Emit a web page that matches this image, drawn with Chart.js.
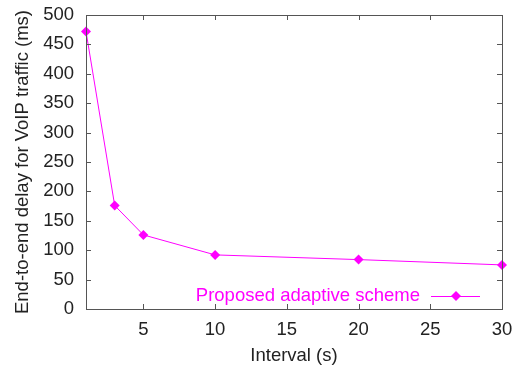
<!DOCTYPE html>
<html>
<head>
<meta charset="utf-8">
<script src="https://cdn.jsdelivr.net/npm/chart.js@4/dist/chart.umd.min.js"></script>
<style>
  html, body { margin: 0; padding: 0; background: #fff; }
  #wrap { width: 519px; height: 365px; }
</style>
</head>
<body>
<div id="wrap"><canvas id="c" width="519" height="365"></canvas></div>
<script>
// Measurement interval (s) and the resulting VoIP end-to-end delay (ms)
const intervals = [1, 3, 5, 10, 20, 30];
const delays = [472, 176, 126, 92, 84, 75];
const seriesLabel = 'Proposed adaptive scheme';
const xTicks = [5, 10, 15, 20, 25, 30];
const yTicks = [0, 50, 100, 150, 200, 250, 300, 350, 400, 450, 500];

const MAGENTA = '#ff00ff';
const FONT = 'Liberation Sans, Arial, sans-serif';
const FONT_SIZE = 18.5;

// Frame with inward ticks on all four sides, mirrored like a classic plot
const framePlugin = {
  id: 'frame',
  afterDatasetsDraw(chart) {
    const { ctx, chartArea: a, scales: { x, y } } = chart;
    ctx.save();
    ctx.strokeStyle = '#555';
    ctx.lineWidth = 1;
    ctx.strokeRect(Math.round(a.left) + 0.5, Math.round(a.top) + 0.5,
      Math.round(a.right - a.left), Math.round(a.bottom - a.top));
    const len = 5;
    ctx.beginPath();
    x.ticks.forEach(t => {
      const px = Math.round(x.getPixelForValue(t.value)) + 0.5;
      if (t.value <= x.min || t.value >= x.max) return;
      ctx.moveTo(px, a.bottom); ctx.lineTo(px, a.bottom - len);
      ctx.moveTo(px, a.top); ctx.lineTo(px, a.top + len);
    });
    y.ticks.forEach(t => {
      const py = Math.round(y.getPixelForValue(t.value)) + 0.5;
      if (t.value <= y.min || t.value >= y.max) return;
      ctx.moveTo(a.left, py); ctx.lineTo(a.left + len, py);
      ctx.moveTo(a.right, py); ctx.lineTo(a.right - len, py);
    });
    ctx.stroke();
    ctx.restore();
  }
};

// Key inside the plot: label text followed by the line sample with its marker
const keyPlugin = {
  id: 'key',
  afterDatasetsDraw(chart) {
    const { ctx, chartArea: a } = chart;
    const ds = chart.data.datasets[0];
    const cy = a.bottom - 13;
    const lineEnd = a.right - 22;
    const lineStart = lineEnd - 49;
    ctx.save();
    ctx.font = FONT_SIZE + 'px ' + FONT;
    ctx.fillStyle = MAGENTA;
    ctx.textAlign = 'right';
    ctx.textBaseline = 'middle';
    ctx.fillText(ds.label, lineStart - 11, cy);
    ctx.strokeStyle = MAGENTA;
    ctx.lineWidth = 1;
    ctx.beginPath();
    ctx.moveTo(lineStart, cy + 0.5); ctx.lineTo(lineEnd, cy + 0.5);
    ctx.stroke();
    const mx = (lineStart + lineEnd) / 2 + 0.5, r = 5;
    ctx.beginPath();
    ctx.moveTo(mx, cy - r); ctx.lineTo(mx + r, cy); ctx.lineTo(mx, cy + r); ctx.lineTo(mx - r, cy);
    ctx.closePath();
    ctx.fill();
    ctx.restore();
  }
};

new Chart(document.getElementById('c'), {
  type: 'line',
  data: {
    datasets: [{
      label: seriesLabel,
      data: intervals.map((v, i) => ({ x: v, y: delays[i] })),
      borderColor: MAGENTA,
      backgroundColor: MAGENTA,
      borderWidth: 1,
      pointStyle: 'rectRot',
      pointRadius: 5,
      pointBorderWidth: 0,
      tension: 0,
      clip: false
    }]
  },
  options: {
    responsive: false,
    animation: false,
    devicePixelRatio: 1,
    layout: { padding: { left: 0, top: 15, right: 17, bottom: 0 } },
    plugins: { legend: { display: false }, tooltip: { enabled: false } },
    scales: {
      x: {
        type: 'linear',
        min: 1, max: 30,
        afterBuildTicks: s => { s.ticks = xTicks.map(v => ({ value: v })); },
        afterFit: s => { s.height = 56; },
        grid: { display: false, drawTicks: true, tickLength: 10 },
        border: { display: false },
        ticks: { color: '#222', padding: 0, font: { family: FONT, size: FONT_SIZE } },
        title: {
          display: true, text: 'Interval (s)', color: '#222',
          font: { family: FONT, size: FONT_SIZE, lineHeight: 1 },
          padding: { top: 0, bottom: 0 }
        }
      },
      y: {
        type: 'linear',
        min: 0, max: 500,
        afterBuildTicks: s => { s.ticks = yTicks.map(v => ({ value: v })); },
        afterFit: s => { s.width = 86; },
        grid: { display: false, drawTicks: true, tickLength: 12 },
        border: { display: false },
        ticks: { color: '#222', padding: 0, font: { family: FONT, size: FONT_SIZE } },
        title: {
          display: true, text: 'End-to-end delay for VoIP traffic (ms)', color: '#222',
          font: { family: FONT, size: FONT_SIZE, lineHeight: 1.2 },
          padding: { top: 12, bottom: 0 }
        }
      }
    }
  },
  plugins: [framePlugin, keyPlugin]
});
</script>
</body>
</html>
